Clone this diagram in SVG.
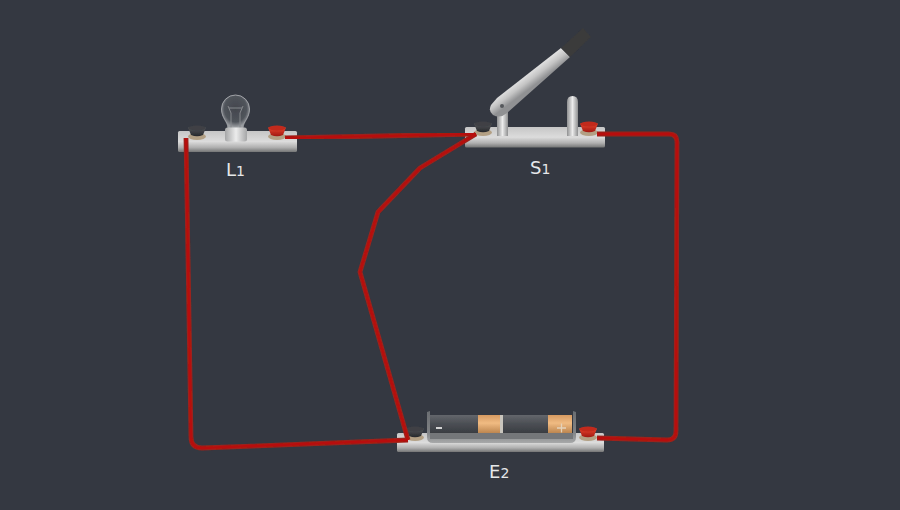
<svg xmlns="http://www.w3.org/2000/svg" width="900" height="510" viewBox="0 0 900 510">
<style>
.lbl{font-family:"DejaVu Sans",sans-serif;font-size:18px;fill:#e6e8ea}
.sub{font-size:14px}
.wire{fill:none;stroke:#9c211b;stroke-width:4.8;stroke-linecap:butt;stroke-linejoin:round;filter:url(#soft)}
.core{fill:none;stroke:#b8100a;stroke-width:2.4;stroke-linecap:butt;stroke-linejoin:round;filter:url(#soft)}
.base{fill:url(#gBase)}
.art{filter:url(#soft)}
</style>
<defs>
<filter id="soft" x="-5%" y="-5%" width="110%" height="110%" filterUnits="objectBoundingBox"><feGaussianBlur stdDeviation="0.45"/></filter>
<linearGradient id="gBase" x1="0" y1="0" x2="0" y2="1"><stop offset="0" stop-color="#c6c6c6"/><stop offset=".5" stop-color="#dcdcdc"/><stop offset=".78" stop-color="#b0b0b0"/><stop offset="1" stop-color="#747575"/></linearGradient>
<linearGradient id="gPost" x1="0" y1="0" x2="1" y2="0"><stop offset="0" stop-color="#8f9091"/><stop offset=".5" stop-color="#ececec"/><stop offset="1" stop-color="#8f9091"/></linearGradient>
<linearGradient id="gLamp" x1="0" y1="0" x2="1" y2="0"><stop offset="0" stop-color="#a5a6a7"/><stop offset=".5" stop-color="#ececec"/><stop offset="1" stop-color="#a5a6a7"/></linearGradient>
<linearGradient id="gHandle" gradientUnits="userSpaceOnUse" x1="527" y1="72" x2="536" y2="84"><stop offset="0" stop-color="#e8e8e8"/><stop offset=".55" stop-color="#c4c4c4"/><stop offset="1" stop-color="#909193"/></linearGradient>
<linearGradient id="gBlack" x1="0" y1="0" x2="0" y2="1"><stop offset="0" stop-color="#54565a"/><stop offset="1" stop-color="#26282b"/></linearGradient>
<linearGradient id="gRed" x1="0" y1="0" x2="0" y2="1"><stop offset="0" stop-color="#e8452e"/><stop offset="1" stop-color="#a01712"/></linearGradient>
<linearGradient id="gCell" x1="0" y1="0" x2="0" y2="1"><stop offset="0" stop-color="#63666b"/><stop offset=".5" stop-color="#4b4e54"/><stop offset="1" stop-color="#3a3d42"/></linearGradient>
<linearGradient id="gCu" x1="0" y1="0" x2="0" y2="1"><stop offset="0" stop-color="#d59a62"/><stop offset=".45" stop-color="#f0bb82"/><stop offset="1" stop-color="#bd8650"/></linearGradient>
<linearGradient id="gHolder" x1="0" y1="0" x2="0" y2="1"><stop offset="0" stop-color="#6a6d71"/><stop offset=".65" stop-color="#7f8184"/><stop offset="1" stop-color="#a7a8a9"/></linearGradient>
<radialGradient id="gGlass" cx=".5" cy=".42" r=".55"><stop offset="0" stop-color="#43464d"/><stop offset=".72" stop-color="#50545b"/><stop offset="1" stop-color="#9a9da1"/></radialGradient>
<g id="blackT"><ellipse cx="0" cy="5.500" rx="9" ry="3.500" fill="#b3a084"/><path d="M-9-3.500H9L6 4Q0 6.500-6 4Z" fill="url(#gBlack)"/><ellipse cx="0" cy="-3" rx="8.500" ry="2.500" fill="#3f4145"/></g>
<g id="redT"><ellipse cx="0" cy="5.500" rx="9" ry="3.500" fill="#b3a084"/><path d="M-9-3.500H9L6 4Q0 6.500-6 4Z" fill="url(#gRed)"/><ellipse cx="0" cy="-3" rx="8.500" ry="2.500" fill="#c22a1e"/></g>
</defs>
<rect width="900" height="510" fill="#343841"/>

<g id="L1">
<g class="art">
<rect class="base" x="178" y="131" width="119" height="21" rx="1.500"/>
<path d="M228 128C228 122 221.500 118 221.500 109A14 14 0 0 1 249.500 109C249.500 118 243 122 243 128Z" fill="url(#gGlass)" stroke="#9fa2a6" stroke-width="1"/>
<path d="M231 128V113L228 106M240 128V113L243 106M229 108H242" fill="none" stroke="#85888c" stroke-width="1"/>
<rect x="225" y="127.500" width="22" height="14" rx="2.500" fill="url(#gLamp)"/>
<use href="#blackT" x="197" y="131"/>
<use href="#redT" x="277" y="131"/>
</g>
<text class="lbl" x="226" y="176">L<tspan class="sub">1</tspan></text>
</g>

<g id="S1">
<g class="art">
<rect class="base" x="465" y="127" width="140" height="20.500" rx="1.500"/>
<path d="M497 136V106H508V136Z" fill="url(#gPost)"/>
<path d="M567 136V102Q567 96 572.500 96Q578 96 578 102V136Z" fill="url(#gPost)"/>
<path d="M497 98L561 48L570 57L507 113Q500 119 493 115Q488 111 491 105Z" fill="url(#gHandle)"/>
<path d="M561 48L583 28L591 37L570 57Z" fill="#3a3a3b"/>
<circle cx="502" cy="106" r="2" fill="#55585c"/>
<use href="#blackT" x="483" y="127"/>
<use href="#redT" x="589" y="127"/>
</g>
<text class="lbl" x="530" y="174">S<tspan class="sub">1</tspan></text>
</g>

<g id="E2">
<g class="art">
<rect class="base" x="397" y="433" width="207" height="19" rx="1.500"/>
<path d="M427 437V412L430 411V433H573V411L576 412V437Q576 443 570 443H433Q427 443 427 437Z" fill="url(#gHolder)"/>
<rect x="430" y="433" width="143" height="6" fill="#74777a"/>
<rect x="430" y="415" width="48" height="18" fill="url(#gCell)"/>
<rect x="478" y="415" width="22" height="18" fill="url(#gCu)"/>
<rect x="500" y="415" width="3" height="18" fill="#c9c5bd"/>
<rect x="503" y="415" width="45" height="18" fill="url(#gCell)"/>
<rect x="548" y="415" width="24" height="18" fill="url(#gCu)"/>
<rect x="436" y="427" width="6" height="2" fill="#d4d4d4"/>
<path d="M557 428H566M561.500 423.500V432.500" stroke="#e4d2ba" stroke-width="1.300" fill="none"/>
<use href="#blackT" x="415" y="432"/>
<use href="#redT" x="588" y="432"/>
</g>
<text class="lbl" x="489" y="478">E<tspan class="sub">2</tspan></text>
</g>

<g id="connectors">
<path id="w1" class="wire" d="M285 138L476 134"/>
<path id="w2" class="wire" d="M597 134H669Q677 134 677 142L676 431Q676 440 667 440L597 438"/>
<path id="w3" class="wire" d="M186 138L191 437Q191 448 202 448L408 440"/>
<path id="w4" class="wire" d="M408 440L360 272L378 212L420 168L476 134"/>
<path class="core" d="M285 138L476 134"/>
<path class="core" d="M597 134H669Q677 134 677 142L676 431Q676 440 667 440L597 438"/>
<path class="core" d="M186 138L191 437Q191 448 202 448L408 440"/>
<path class="core" d="M408 440L360 272L378 212L420 168L476 134"/>
</g>
</svg>
